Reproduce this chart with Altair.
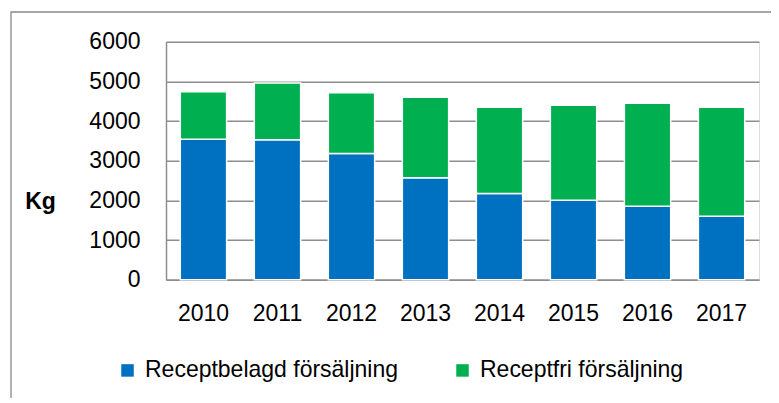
import altair as alt
import pandas as pd

years = ["2010", "2011", "2012", "2013", "2014", "2015", "2016", "2017"]
receptbelagd = [3540, 3530, 3180, 2570, 2170, 2000, 1850, 1600]
receptfri = [1200, 1430, 1530, 2030, 2180, 2400, 2600, 2750]
series = ["Receptbelagd försäljning", "Receptfri försäljning"]
colors = ["#0070C0", "#00B050"]
y_ticks = [0, 1000, 2000, 3000, 4000, 5000, 6000]

rows = []
for i, yr in enumerate(years):
    rows.append({"year": yr, "serie": series[0], "value": receptbelagd[i], "ord": 0})
    rows.append({"year": yr, "serie": series[1], "value": receptfri[i], "ord": 1})
df = pd.DataFrame(rows)

FONT = "Liberation Sans"
FS = 23
GRID = "#8E8E8E"

bars = alt.Chart(df).mark_bar(stroke="white", strokeWidth=1.5).encode(
    x=alt.X("year:N", sort=years,
            scale=alt.Scale(paddingInner=0.374, paddingOuter=0.193),
            axis=alt.Axis(title=None, labelAngle=0, ticks=False, domain=True,
                          domainColor=GRID, domainWidth=1.5,
                          labelPadding=23, labelFontSize=FS, labelFont=FONT,
                          labelColor="#000000", grid=False)),
    y=alt.Y("value:Q", stack="zero",
            scale=alt.Scale(domain=[0, 6000], nice=False),
            axis=alt.Axis(values=y_ticks, format="d", title="Kg", titleAngle=0,
                          titleFontWeight="bold", titleFont=FONT, titleFontSize=FS,
                          titleColor="#000000", titleX=-126, titleY=167,
                          titleAlign="center", titleBaseline="alphabetic",
                          ticks=False, labelPadding=26, labelFontSize=FS,
                          labelFont=FONT, labelColor="#000000",
                          domain=True, domainColor=GRID, domainWidth=1.5,
                          grid=True, gridColor=GRID, gridWidth=1.5)),
    color=alt.Color("serie:N",
                    scale=alt.Scale(domain=series, range=colors),
                    legend=alt.Legend(title=None, orient="none", direction="horizontal",
                                      legendX=-50, legendY=317, symbolType="square",
                                      symbolSize=156, symbolStrokeWidth=0,
                                      labelFontSize=FS, labelFont=FONT,
                                      labelColor="#000000", labelOffset=6,
                                      labelLimit=0, columnPadding=52, padding=0)),
    order=alt.Order("ord:Q"),
)

frame = alt.Chart(pd.DataFrame({"a": [0]})).mark_rect(
    filled=False, stroke="#898989", strokeWidth=1.3, clip=False
).encode(
    x=alt.value(-155), x2=alt.value(700),
    y=alt.value(-29.7), y2=alt.value(500),
)

chart = alt.layer(frame, bars).properties(
    width=593, height=238,
    autosize=alt.AutoSizeParams(type="none"),
    padding={"left": 158, "top": 33.7, "right": 12, "bottom": 118},
).configure_view(stroke=None).configure(background="white")

chart.save("out.html", embed_options={"renderer": "svg", "actions": False})
